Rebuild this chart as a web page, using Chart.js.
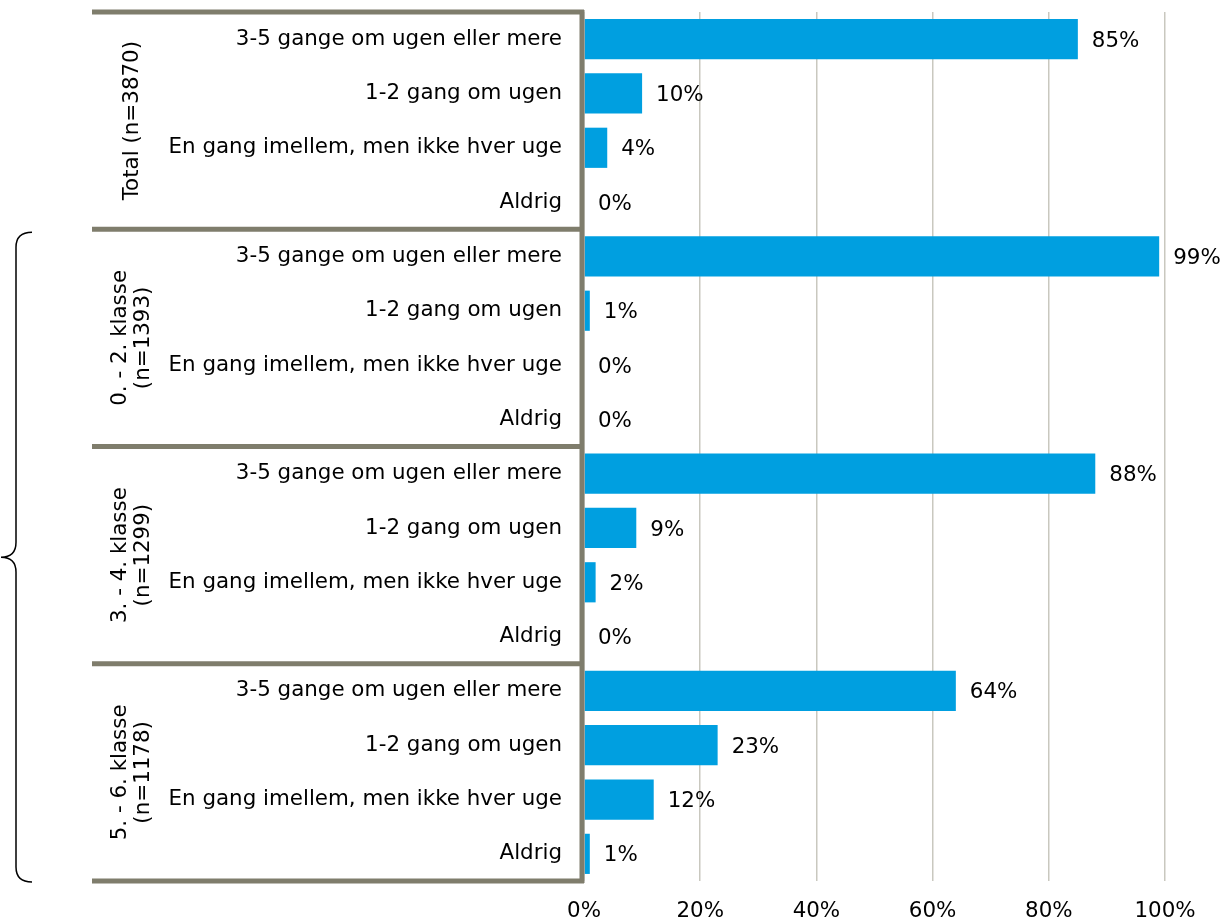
<!DOCTYPE html>
<html>
<head>
<meta charset="utf-8">
<script src="https://cdn.jsdelivr.net/npm/chart.js@4.4.1/dist/chart.umd.min.js"></script>
<style>
  html, body { margin: 0; padding: 0; background: #fff; }
  #wrap { width: 1226px; height: 921px; }
</style>
</head>
<body>
<div id="wrap"><canvas id="chart"></canvas></div>
<script>
const answers = [
  "3-5 gange om ugen eller mere",
  "1-2 gang om ugen",
  "En gang imellem, men ikke hver uge",
  "Aldrig"
];
const groups = [
  ["Total (n=3870)"],
  ["0. - 2. klasse", "(n=1393)"],
  ["3. - 4. klasse", "(n=1299)"],
  ["5. - 6. klasse", "(n=1178)"]
];
const totalValues = [85, 10, 4, 0];
const grade02Values = [99, 1, 0, 0];
const grade34Values = [88, 9, 2, 0];
const grade56Values = [64, 23, 12, 1];
const xTicks = [0, 20, 40, 60, 80, 100];

const labels = [];
groups.forEach(() => answers.forEach(a => labels.push(a)));
const values = [...totalValues, ...grade02Values, ...grade34Values, ...grade56Values];

const FONT = "DejaVu Sans, Verdana, sans-serif";
const SIZE = 21.4;
const BOX = "#7f7d6c";

// group boxes, left labels, brace and value labels
const extras = {
  id: "extras",
  afterDatasetsDraw(chart) {
    const ctx = chart.ctx;
    const y = chart.scales.y;
    const area = chart.chartArea;
    const step = (y.getPixelForValue(1) - y.getPixelForValue(0));
    ctx.save();

    // value labels
    ctx.font = SIZE + "px " + FONT;
    ctx.fillStyle = "#000";
    ctx.textBaseline = "middle";
    ctx.textAlign = "left";
    const meta = chart.getDatasetMeta(0);
    meta.data.forEach((bar, i) => {
      ctx.fillText(values[i] + "%", bar.x + 14, bar.y + 2);
    });

    // separators
    ctx.strokeStyle = BOX;
    ctx.lineWidth = 5;
    for (let g = 0; g <= groups.length; g++) {
      const yy = y.getPixelForValue(g * 4) - step / 2;
      ctx.beginPath();
      ctx.moveTo(92, yy);
      ctx.lineTo(area.left, yy);
      ctx.stroke();
    }
    ctx.beginPath();
    ctx.moveTo(area.left - 2, area.top - 2);
    ctx.lineTo(area.left - 2, area.bottom + 2);
    ctx.stroke();

    // rotated group labels
    ctx.textAlign = "center";
    ctx.textBaseline = "middle";
    groups.forEach((lines, g) => {
      const cy = (y.getPixelForValue(g * 4) + y.getPixelForValue(g * 4 + 3)) / 2;
      const cx = 132;
      ctx.save();
      ctx.translate(cx, cy);
      ctx.rotate(-Math.PI / 2);
      const lh = 23;
      lines.forEach((t, k) => {
        ctx.fillText(t, 0, (k - (lines.length - 1) / 2) * lh);
      });
      ctx.restore();
    });

    // brace around the grade groups
    const top = y.getPixelForValue(4) - step / 2 + 3;
    const bot = y.getPixelForValue(15) + step / 2 + 1;
    const mid = (top + bot) / 2;
    const xr = 32, xm = 16, xl = 1, r = 10;
    ctx.strokeStyle = "#000";
    ctx.lineWidth = 1.5;
    ctx.beginPath();
    ctx.moveTo(xr, top);
    ctx.quadraticCurveTo(xm, top, xm, top + r * 1.5);
    ctx.lineTo(xm, mid - r * 1.5);
    ctx.quadraticCurveTo(xm, mid, xl, mid);
    ctx.quadraticCurveTo(xm, mid, xm, mid + r * 1.5);
    ctx.lineTo(xm, bot - r * 1.5);
    ctx.quadraticCurveTo(xm, bot, xr, bot);
    ctx.stroke();

    ctx.restore();
  }
};

new Chart(document.getElementById("chart"), {
  type: "bar",
  data: {
    labels: labels,
    datasets: [{
      data: values,
      backgroundColor: "#009fe0",
      barPercentage: 0.74,
      categoryPercentage: 1
    }]
  },
  options: {
    indexAxis: "y",
    responsive: true,
    maintainAspectRatio: false,
    animation: false,
    layout: { padding: { top: 12, right: 61, bottom: 0, left: 0 } },
    plugins: { legend: { display: false }, tooltip: { enabled: false } },
    scales: {
      x: {
        min: 0,
        max: 100,
        afterBuildTicks(scale) { scale.ticks = xTicks.map(v => ({ value: v })); },
        afterFit(scale) { scale.height = 40; },
        grid: { color: "#c9c8bf", lineWidth: 1.5, drawTicks: false },
        border: { display: false },
        ticks: {
          color: "#000",
          font: { family: FONT, size: SIZE },
          padding: 18,
          callback: v => v + "%"
        }
      },
      y: {
        grid: { display: false, drawTicks: false },
        border: { display: false },
        afterFit(scale) {
          scale.width = 584;
          scale.paddingTop = 0;
          scale.paddingBottom = 0;
        },
        ticks: {
          color: "#000",
          font: { family: FONT, size: SIZE },
          padding: 22,
          autoSkip: false
        }
      }
    }
  },
  plugins: [extras]
});
</script>
</body>
</html>
